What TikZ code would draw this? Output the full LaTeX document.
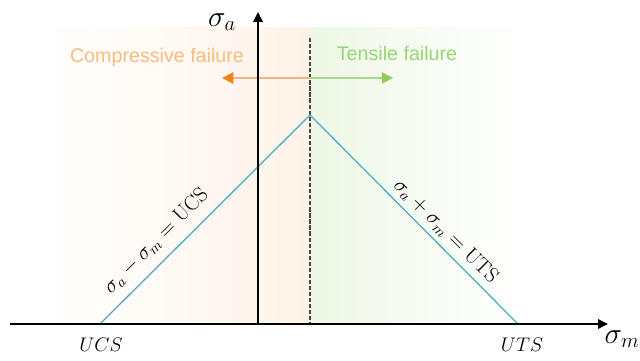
\RequirePackage{fix-cm}
\documentclass[tikz,border=0pt]{standalone}
\usepackage{fontspec}
\newfontfamily\failfont{Liberation Sans}
\usetikzlibrary{arrows.meta}
\definecolor{peach}{HTML}{FEF3E8}
\definecolor{mint}{HTML}{EEF8E6}
\definecolor{otext}{HTML}{F8BD7E}
\definecolor{gtext}{HTML}{98D575}
\definecolor{ohead}{HTML}{EE8418}
\definecolor{oshaft}{HTML}{F4B183}
\definecolor{ghead}{HTML}{8FD05A}
\definecolor{gshaft}{HTML}{A9D690}
\definecolor{lineblue}{HTML}{4BACC6}
\tikzset{
  axis/.style={line width=1.8pt, -{Triangle[length=7pt,width=6.5pt]}},
  fail/.style={font=\failfont\fontsize{14}{16}\selectfont},
  eq/.style={font=\fontsize{15}{17}\selectfont, inner sep=0pt},
  axlabel/.style={font=\fontsize{21}{24}\selectfont, inner sep=0pt},
  endlabel/.style={font=\fontsize{14}{16}\selectfont, inner sep=0pt},
  envelope/.style={draw=lineblue, line width=0.9pt},
}
\begin{document}
\begin{tikzpicture}[x=0.025cm,y=-0.025cm]
\useasboundingbox (0,0) rectangle (640,361);
% backgrounds
\fill[left color=white, right color=peach] (40,28) rectangle (310,324);
\fill[left color=mint, right color=white] (310,28) rectangle (525,324);
% coordinates
\coordinate (xs) at (10,324);
\coordinate (xe) at (608,324);
\coordinate (ys) at (258,324);
\coordinate (ye) at (258,12);
\coordinate (ucs) at (100,324);
\coordinate (peak) at (310,115);
\coordinate (uts) at (518,324);
\coordinate (dtop) at (310,38);
\coordinate (dbot) at (310,324);
\coordinate (amid) at (310,78);
\coordinate (aleft) at (222,78);
\coordinate (aright) at (393,78);
% dashed line
\draw[gray!55!black, line width=0.75pt, dash pattern=on 3pt off 1.3pt] (dtop) -- (dbot);
% failure arrows
\draw[oshaft, line width=1.4pt, -{Triangle[length=8pt,width=8pt,color=ohead]}] (amid) -- (aleft);
\draw[gshaft, line width=1.4pt, -{Triangle[length=8pt,width=8pt,color=ghead]}] (amid) -- (aright);
\node[fail, text=otext] (comp) at (157,57) {Compressive failure};
\node[fail, text=gtext] (tens) at (397,53) {Tensile failure};
% envelope
\draw[envelope] (ucs) -- (peak) -- (uts);
% axes
\draw[axis] (xs) -- (xe);
\draw[axis] (ys) -- (ye);
% labels
\node[axlabel] (sa) at (222,22) {$\sigma_a$};
\node[axlabel] (sm) at (622,339) {$\sigma_m$};
\node[endlabel] (lucs) at (101,345) {$UCS$};
\node[endlabel] (luts) at (522,345) {$UTS$};
\node[eq, rotate=45] (eql) at (156,241) {$\sigma_a-\sigma_m=\mathrm{UCS}$};
\node[eq, rotate=-45] (eqr) at (446,231) {$\sigma_a+\sigma_m=\mathrm{UTS}$};
\end{tikzpicture}
\end{document}
